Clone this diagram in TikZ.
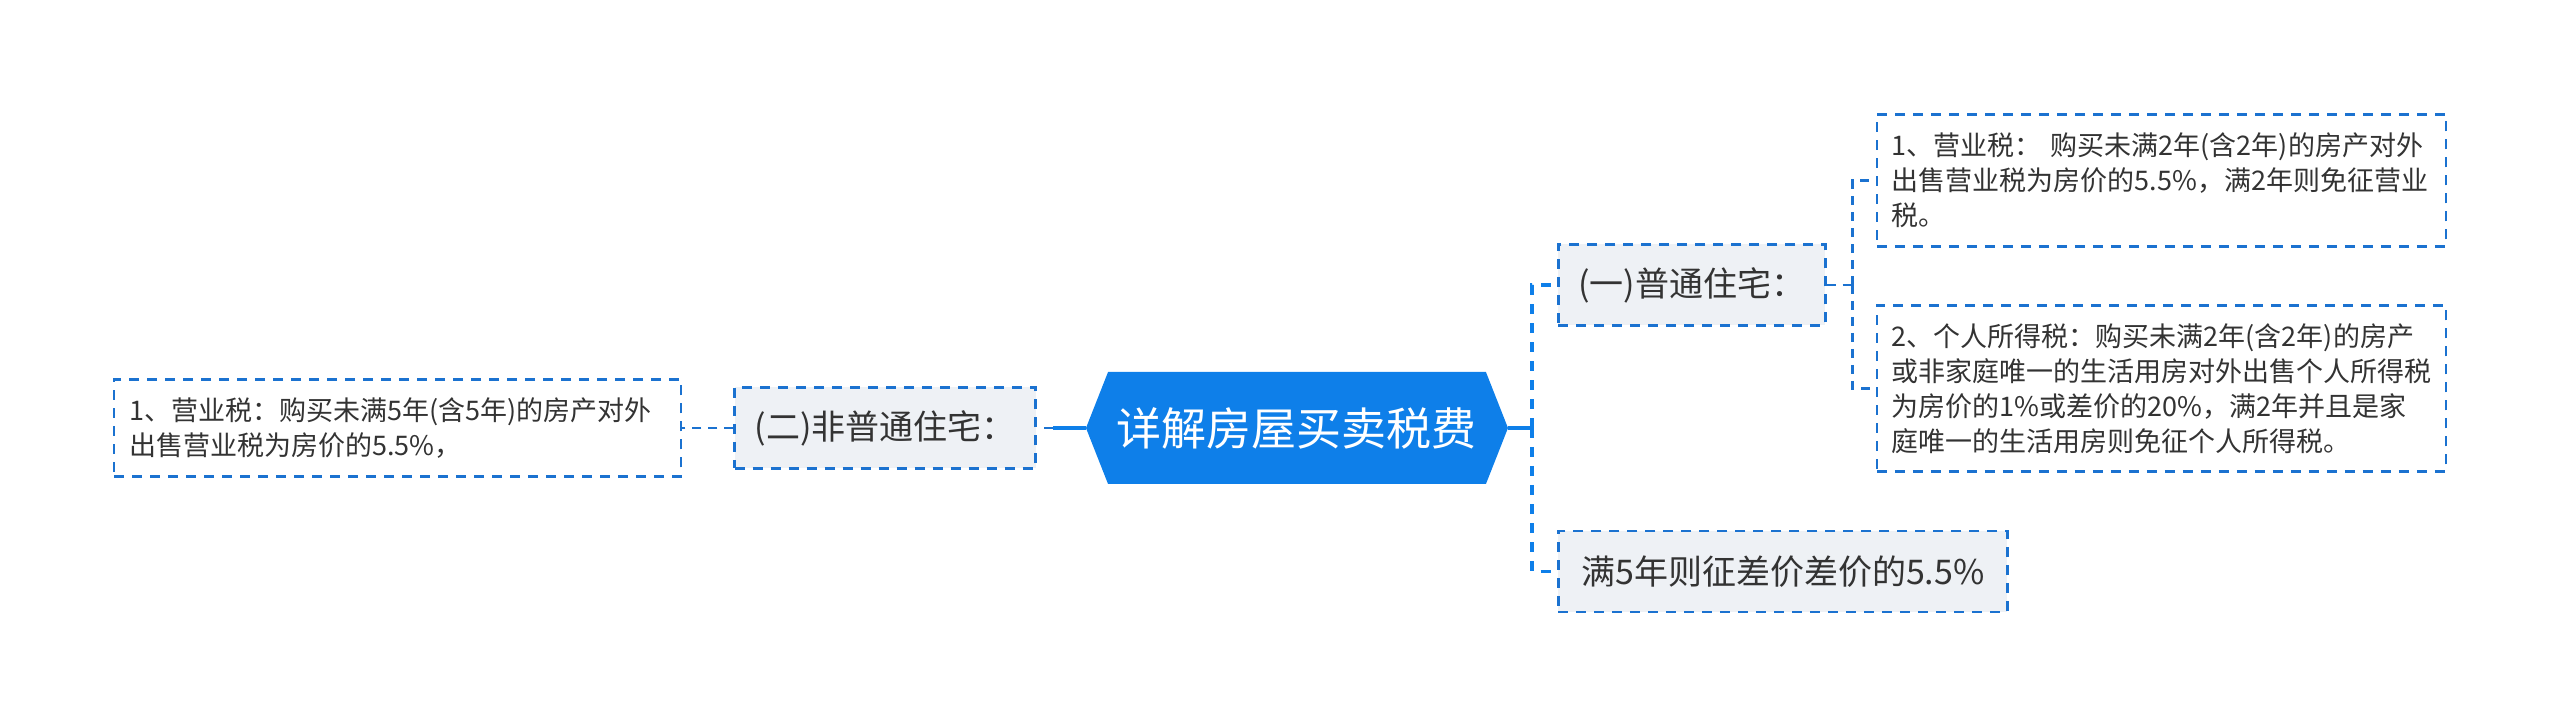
\documentclass[tikz,border=0pt]{standalone}
\usepackage{fontspec}
\setmainfont{Noto Sans CJK SC}
\usetikzlibrary{positioning,shapes.symbols}

\definecolor{rootblue}{HTML}{0E7FE9}
\definecolor{lineblue}{HTML}{1B72D0}
\definecolor{boxgray}{HTML}{EEF1F5}
\definecolor{textgray}{HTML}{333333}

\tikzstyle{rootbox} = [
signal,
signal to=west and east,
signal pointer angle=137,
minimum width=422pt,
minimum height=112pt,
inner sep=0pt,
fill=rootblue,
text=white,
font=\fontsize{45pt}{54pt}\selectfont
]
\tikzstyle{lvlone} = [
rectangle,
minimum height=81pt,
inner xsep=20pt,
text centered,
draw=lineblue,
line width=2.4pt,
dash pattern=on 10pt off 8pt,
fill=boxgray,
text=textgray,
font=\fontsize{34pt}{40pt}\selectfont
]
\tikzstyle{lvltwo} = [
rectangle,
text width=539pt,
inner xsep=15pt,
align=left,
draw=lineblue,
line width=2.4pt,
dash pattern=on 10pt off 8pt,
fill=white,
text=textgray,
font=\fontsize{27pt}{35pt}\selectfont
]
\tikzstyle{rootline} = [
line width=3.5pt,
rootblue
]
\tikzstyle{trunk} = [
line width=3.5pt,
rootblue,
dash pattern=on 10pt off 9pt
]
\tikzstyle{branch} = [
line width=2.4pt,
lineblue,
dash pattern=on 9pt off 7pt
]

\begin{document}
\begin{tikzpicture}

\useasboundingbox (-1297pt,428pt) rectangle (1263pt,-300pt);

\node (root) [rootbox] at (0,0) {详解房屋买卖税费};

\node (one) [lvlone, minimum width=267pt, right=49pt of root, yshift=143pt]
{(一)普通住宅：};

\node (five) [lvlone, minimum width=449pt, right=49pt of root, yshift=-143.5pt]
{满5年则征差价差价的5.5\%};

\node (two) [lvlone, minimum width=301pt, left=49pt of root]
{(二)非普通住宅：};

\node (yingye) [lvltwo, minimum height=132pt, right=49pt of one, yshift=104.5pt]
{1、营业税： 购买未满2年(含2年)的房产对外\\出售营业税为房价的5.5\%，满2年则免征营业\\税。};

\node (geren) [lvltwo, minimum height=166pt, right=49pt of one, yshift=-103.5pt]
{2、个人所得税：购买未满2年(含2年)的房产\\或非家庭唯一的生活用房对外出售个人所得税\\为房价的1\%或差价的20\%，满2年并且是家\\庭唯一的生活用房则免征个人所得税。};

\node (feiputong) [lvltwo, text width=537pt, minimum height=97pt, left=51pt of two]
{1、营业税：购买未满5年(含5年)的房产对外\\出售营业税为房价的5.5\%，};

\coordinate (rjoint) at ([xshift=24pt]root.east);
\coordinate (ljoint) at ([xshift=-33pt]root.west);
\coordinate (onejoint) at ([xshift=26pt]one.east);

\draw [rootline] (root.east) -- (rjoint);

\draw [trunk] (rjoint) |- (one);

\draw [trunk] (rjoint) |- (five);

\draw [rootline] (root.west) -- (ljoint);

\draw [branch] (ljoint) -- (two);

\draw [branch] (one) -- (onejoint);

\draw [branch] (onejoint) |- (yingye);

\draw [branch] (onejoint) |- (geren);

\draw [branch] (two) -- (feiputong);

\end{tikzpicture}
\end{document}
